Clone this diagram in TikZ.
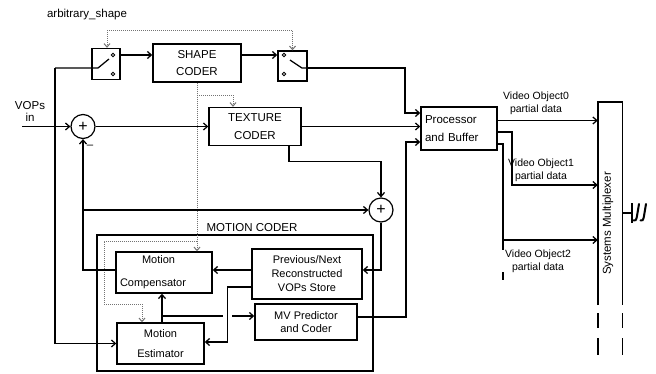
\documentclass[tikz,border=0pt]{standalone}
\usepackage{fontspec}
\setmainfont{Liberation Sans}
\usetikzlibrary{arrows.meta}

\begin{document}
\begin{tikzpicture}[x=1pt, y=-1pt,
    % 定义通用样式
    block/.style={rectangle, draw=black, line width=1.4pt, inner sep=1pt, align=center, font=\fontsize{11.5}{17.5}\selectfont},
    swbox/.style={rectangle, draw=black, line width=1.4pt, minimum width=28pt, minimum height=31pt},
    adder/.style={circle, draw=black, line width=1.2pt, minimum size=24pt, inner sep=0pt, font=\fontsize{16}{16}\selectfont},
    lbl/.style={align=center, font=\fontsize{11.5}{12}\selectfont},
    vlbl/.style={align=center, font=\fontsize{10.5}{13}\selectfont},
    wire/.style={draw=black, line width=1.25pt},
    % 定义箭头样式
    myarrow/.style={wire, -{Straight Barb[length=4pt, width=7pt]}},
    ctrlarrow/.style={draw=black!55, line width=1pt, densely dotted, -{Straight Barb[length=3.5pt, width=6pt]}},
    jackstroke/.style={draw=black, line width=2pt, line cap=round}
]
\useasboundingbox (0,0) rectangle (656,373);

% ====================
% 形状编码部分
% ====================
\node[lbl] (arb) at (87,15) {arbitrary\_shape};
\node[swbox] (sw1) at (106,64) {};
\node[block, minimum width=88pt, minimum height=38pt] (shape) at (197,63) {SHAPE\\CODER};
\node[swbox, minimum width=29pt, minimum height=30pt] (sw2) at (292.5,66) {};

% 开关内部
\draw[wire, line width=0.9pt] (113,55) circle (1.8pt) (113,74) circle (1.8pt);
\draw[wire, line width=0.9pt] (284,55) circle (1.8pt) (284,74) circle (1.8pt);
\coordinate (vin) at (55,68);
\coordinate (sw2out) at (307,68);
\draw[wire] (vin) -- (98,68) -- (109,59);
\draw[wire] (sw2out) -- ++(-5,0) -- ++(-12,-8);

\coordinate (arbjn) at (107,30);
\draw[ctrlarrow] (arbjn) -- (arbjn |- sw1.north);
\draw[ctrlarrow] (arbjn) -| (sw2.north);

\draw[myarrow] ([yshift=9pt]sw1.east) -- ([yshift=9pt]sw1.east -| shape.west);
\draw[myarrow] ([yshift=9pt]sw1.east -| shape.east) -- ([yshift=9pt]sw1.east -| sw2.west);

% ====================
% 纹理编码部分
% ====================
\node[lbl] (vops) at (30,111) {VOPs\\in};
\coordinate (vopin) at (22,126.5);
\node[adder] (add1) at (83,126.5) {+};
\node[lbl] (minus) at (90,147) {--};
\node[block, minimum width=92pt, minimum height=38pt] (texture) at (255,126.5) {TEXTURE\\CODER};
\node[adder] (add2) at (381,210) {+};

\draw[myarrow] (vopin) -- (add1.west);
\draw[myarrow] (add1.east) -- (texture.west);
\draw[myarrow] ([xshift=34pt]texture.south) -- ++(0,15) -| (add2.north);

% ====================
% 运动编码部分
% ====================
\node[draw, line width=1.4pt, minimum width=276pt, minimum height=136pt] (mcoder) at (235,303) {};
\node[lbl] (mclabel) at (252,228) {MOTION CODER};
\node[block, minimum width=96pt, minimum height=41pt, align=left, text width=88pt, font=\fontsize{11}{13}\selectfont] (mc) at (164,272.5) {\hspace*{22pt}Motion\\[10pt]Compensator};
\node[block, minimum width=110pt, minimum height=50pt, font=\fontsize{11}{14}\selectfont] (store) at (307,274) {Previous/Next\\Reconstructed\\VOPs Store};
\node[block, minimum width=102pt, minimum height=36pt, font=\fontsize{11}{13}\selectfont] (mvp) at (306,322) {MV Predictor\\and Coder};
\node[block, minimum width=87pt, minimum height=41pt, font=\fontsize{11}{13}\selectfont] (me) at (160.5,343.5) {Motion\\[7pt]Estimator};

% 形状信息（灰色虚线）
\coordinate (dotjn) at (197,95);
\coordinate (dotjn2) at (197,241);
\draw[ctrlarrow] (shape.south) -- (shape.south |- mc.north);
\draw[ctrlarrow] (dotjn) -| ([xshift=-22pt]texture.north);
\draw[ctrlarrow] (dotjn2) -| (104,304) -| ([xshift=-18.5pt]me.north);

\coordinate (fbjn) at (83,210);
\coordinate (mejn) at (162,316);
\draw[myarrow] ([yshift=2.5pt]mc.west) -| (add1.south);
\draw[myarrow] (fbjn) -- (add2.west);
\draw[myarrow] (add2.south) |- ([yshift=4pt]store.east);
\draw[myarrow] ([yshift=4pt]store.west) -- ([yshift=4pt]store.west -| mc.east);
\draw[myarrow] ([yshift=-13pt]store.west) -- ++(-24,0) |- ([yshift=1.5pt]me.east);
\draw[myarrow] ([xshift=1.5pt]me.north) -- ([xshift=1.5pt]me.north |- mc.south);
\draw[wire] (mejn) -- (223,316);
\draw[myarrow] (232,316) -- (mvp.west |- mejn);
\draw[myarrow] (vin) |- (me.west);

% ====================
% 处理器与复用器
% ====================
\node[block, minimum width=76pt, minimum height=43pt, align=left, text width=68pt] (proc) at (459,128.5) {Processor\\and Buffer};
\node[minimum width=24pt, minimum height=203pt] (mux) at (610,203.5) {};
\draw[wire, line width=1.4pt] (mux.south west) -- (mux.north west) -- (mux.north east) -- (mux.south east);
\draw[wire, line width=1.4pt, dash pattern=on 0pt off 8pt on 15pt off 10pt on 17pt off 20pt] (mux.south west) -- ++(0,50);
\draw[wire, line width=1.4pt, dash pattern=on 0pt off 8pt on 15pt off 10pt on 17pt off 20pt] (mux.south east) -- ++(0,50);
\node[lbl, rotate=90] (muxtext) at (608,223.5) {Systems Multiplexer};

\draw[myarrow] (sw2out) -- (405,68) |- ([yshift=15.5pt]proc.west);
\draw[myarrow] (texture.east) -- (texture.east -| proc.west);
\draw[myarrow] ([yshift=5pt]mvp.east) -- (406,317) |- ([yshift=-13.5pt]proc.west);

\draw[myarrow] ([yshift=8pt]proc.east) -- ([yshift=8pt]proc.east -| mux.west);
\draw[myarrow] ([yshift=-3.5pt]proc.east) -- (512,132) |- ([yshift=18.5pt]mux.west);
\draw[myarrow] ([yshift=-15.5pt]proc.east) -- (503,144) |- ([yshift=-36.5pt]mux.west);
\draw[wire, dash pattern=on 10pt off 22pt on 8pt off 20pt] (503,240) -- (503,280);

\node[vlbl] (vo0) at (536,103.5) {Video Object0\\partial data};
\node[vlbl] (vo1) at (541,170) {Video Object1\\partial data};
\node[vlbl] (vo2) at (538,261.5) {Video Object2\\partial data};

% 输出端
\coordinate (jack) at (632,213);
\draw[wire] (mux.east |- jack) -- (jack);
\draw[wire] (632,203) -- (632,223);
\draw[jackstroke] (639,204) -- (637,216) .. controls (636.5,220) and (635,221.5) .. (633.5,220.5);
\draw[jackstroke] (646,204) -- (644,216) .. controls (643.5,220) and (642,221.5) .. (640.5,220.5);

\end{tikzpicture}
\end{document}
